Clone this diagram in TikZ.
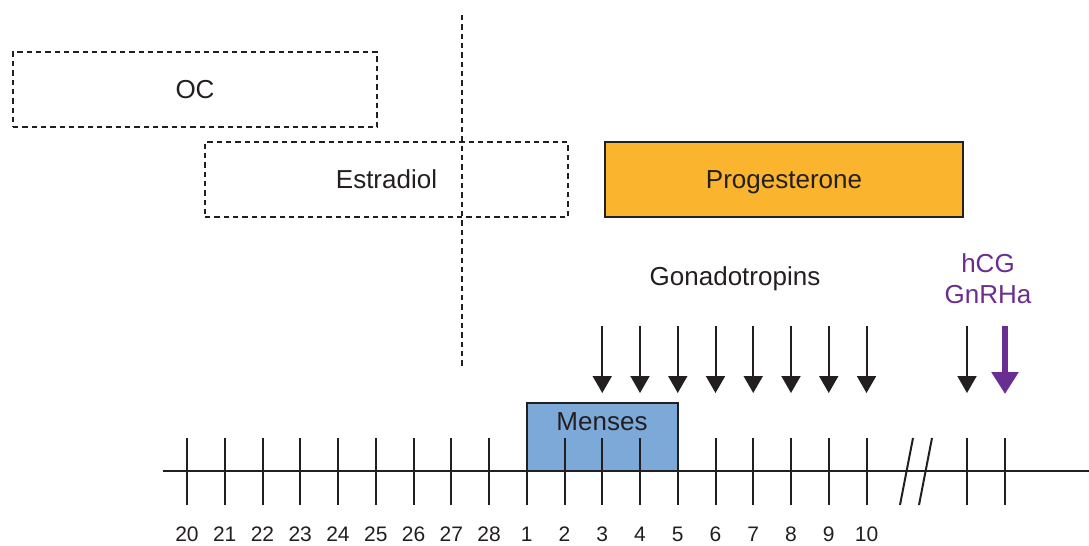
\documentclass[tikz,border=0pt]{standalone}
\usepackage{fontspec}
\setmainfont{Liberation Sans}
\usetikzlibrary{arrows.meta}
\definecolor{ink}{RGB}{35,31,32}
\definecolor{progfill}{RGB}{250,180,45}
\definecolor{mensfill}{RGB}{124,169,216}
\definecolor{drugpurple}{RGB}{106,45,145}
\begin{document}
\begin{tikzpicture}[x=0.75pt,y=-0.75pt,
    every node/.style={text=ink,font=\fontsize{19.5}{23}\selectfont},
    capcentre/.style={text height=14pt,text depth=0pt},
    dashbox/.style={draw=ink,line width=1.1pt,dash pattern=on 4pt off 3pt,inner sep=0pt,minimum height=56.25pt,capcentre},
    solidbox/.style={draw=ink,line width=1.1pt,inner sep=0pt,capcentre},
    tickline/.style={draw=ink,line width=1.5pt},
    daylabel/.style={font=\fontsize{15.75}{18}\selectfont,text height=11.3pt,text depth=0pt,inner sep=0pt},
    gonarrow/.style={draw=ink,line width=1.5pt,-{Triangle[width=14.25pt,length=12.75pt]}},
    purplearrow/.style={draw=drugpurple,line width=4.5pt,-{Triangle[width=19.5pt,length=16.5pt]}},
  ]
\useasboundingbox (0,0) rectangle (1089,546);

% treatment boxes
\node[dashbox,minimum width=273pt] (oc) at (195,89.5) {OC};
\node[dashbox,minimum width=272.25pt] (estr) at (386.5,179.5) {Estradiol};
\node[solidbox,fill=progfill,minimum width=268.5pt,minimum height=56.25pt] (prog) at (784,179.5) {Progesterone};

% cycle boundary
\coordinate (cbtop) at (462,15);
\coordinate (cbbot) at (462,368);
\draw[draw=ink,line width=1.1pt,dash pattern=on 4pt off 3pt] (cbtop) -- (cbbot);

% menses block
\node[solidbox,fill=mensfill,minimum width=113.25pt,minimum height=51pt] (mensbox) at (602.5,437) {};
\node[anchor=base,inner sep=0pt] (menses) at (602,430) {Menses};

% time axis
\coordinate (axL) at (163,471);
\coordinate (axR) at (1089,471);
\draw[tickline] (axL) -- (axR);

% day ticks and labels
\foreach \lab [count=\i from 0] in {20,21,22,23,24,25,26,27,28,1,2,3,4,5,6,7,8,9,10} {
  \coordinate (tt\i) at ({187+37.75*\i},438);
  \coordinate (tb\i) at ({187+37.75*\i},505);
  \draw[tickline] (tt\i) -- (tb\i);
  \node[daylabel] (lab\i) at ({187+37.75*\i},534) {\lab};
}
\foreach \x [count=\i] in {967,1005} {
  \coordinate (et\i) at (\x,438);
  \coordinate (eb\i) at (\x,505);
  \draw[tickline] (et\i) -- (eb\i);
}

% axis break
\coordinate (bra) at (913,438); \coordinate (brb) at (900,505);
\coordinate (brc) at (932,438); \coordinate (brd) at (919,505);
\draw[tickline] (bra) -- (brb);
\draw[tickline] (brc) -- (brd);

% gonadotropin injections
\node[anchor=base,inner sep=0pt] (gon) at (735,285) {Gonadotropins};
\foreach \i in {11,...,18} {
  \coordinate (gs\i) at ({187+37.75*\i},326);
  \coordinate (ge\i) at ({187+37.75*\i},393);
  \draw[gonarrow] (gs\i) -- (ge\i);
}
\coordinate (gsx) at (967,326);
\coordinate (gex) at (967,393);
\draw[gonarrow] (gsx) -- (gex);

% trigger
\node[text=drugpurple,anchor=base,inner sep=0pt] (hcg) at (988,272) {hCG};
\node[text=drugpurple,anchor=base,inner sep=0pt] (gnrha) at (988,303) {GnRHa};
\coordinate (ps) at (1005,326);
\coordinate (pe) at (1005,394);
\draw[purplearrow] (ps) -- (pe);
\end{tikzpicture}
\end{document}
